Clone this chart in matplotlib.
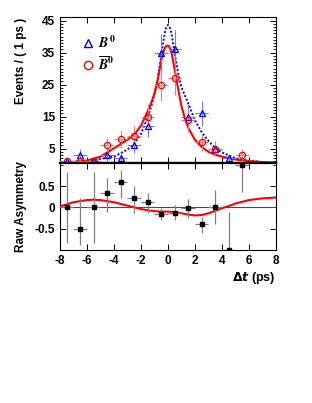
#Raw time distributions for B0 / B0bar tags and the raw asymmetry
import numpy as np
import matplotlib
matplotlib.use('Agg')
import matplotlib.pyplot as plt
from matplotlib.lines import Line2D
from matplotlib.ticker import MultipleLocator

plt.rcParams['font.family'] = ['Liberation Sans', 'DejaVu Sans']
plt.rcParams['font.weight'] = 'bold'
plt.rcParams['axes.labelweight'] = 'bold'

# bin centres (1 ps bins)
bins = [-7.5, -6.5, -5.5, -4.5, -3.5, -2.5, -1.5, -0.5,
        0.5, 1.5, 2.5, 3.5, 4.5, 5.5]
n_b0 = [1, 3, 1, 3, 2, 6, 12, 35, 36, 15, 16, 5, 2, 0]
n_b0bar = [1, 1, 1, 6, 8, 9, 15, 25, 27, 14, 7, 5, 0, 3]

# fit curves
curve_t = [-8, -7, -6, -5, -4, -3, -2.5, -2, -1.5, -1.25, -1, -0.75, -0.5, -0.3, -0.2,
           -0.1, 0.0, 0.1, 0.2, 0.3, 0.5, 0.75, 1, 1.25, 1.5, 2, 2.5, 3, 3.5, 4, 5, 6, 7, 8]
curve_b0 = [0.7, 0.9, 1.2, 1.8, 2.5, 4.7, 6.6, 9.6, 14.9, 18.1, 22.1, 27.1, 34.1, 39.6, 42.0,
            43.3, 43.6, 43.2, 42.0, 40.0, 34.6, 28.6, 24.1, 21.6, 19.1, 13.8, 10.1, 7.4, 5.2, 3.8, 2.0, 1.2, 0.8, 0.6]
curve_b0bar = [0.6, 0.8, 1.3, 2.5, 5.1, 7.8, 9.3, 12.2, 16.7, 19.2, 22.2, 26.7, 32.5, 35.7, 36.7,
               37.1, 37.2, 36.8, 35.8, 34.2, 29.5, 23.7, 18.2, 14.5, 11.5, 7.7, 5.5, 4.0, 3.1, 2.5, 1.6, 1.1, 0.8, 0.6]

# raw asymmetry points with asymmetric errors
asym = [0.0, -0.5, 0.0, 0.34, 0.6, 0.21, 0.12, -0.16,
        -0.14, -0.02, -0.38, 0.0, -1.0, 1.0]
asym_lo = [0.83, 0.38, 0.83, 0.44, 0.37, 0.34, 0.25, 0.14,
           0.16, 0.24, 0.23, 0.40, 0.0, 0.65]
asym_hi = [0.84, 0.73, 0.84, 0.34, 0.27, 0.29, 0.21, 0.14,
           0.19, 0.21, 0.16, 0.40, 0.89, 0.0]

asym_t = [-8, -7, -6, -5.5, -5, -4, -3, -2.5, -2, -1.5, -1, -0.5, 0, 0.5, 1,
          1.5, 2, 2.5, 3, 3.5, 4, 4.5, 5, 5.5, 6, 6.5, 7, 7.5, 8]
asym_curve = [0.02, 0.12, 0.17, 0.18, 0.17, 0.12, 0.04, 0.0, -0.04, -0.07, -0.09, -0.10,
              -0.10, -0.11, -0.14, -0.17, -0.19, -0.18, -0.14, -0.08, -0.02, 0.03, 0.09,
              0.13, 0.17, 0.19, 0.21, 0.22, 0.23]

fig = plt.figure(figsize=(3.12, 4.03), dpi=100)
ax1 = fig.add_axes([0.1923, 0.5955, 0.6923, 0.3615])
ax2 = fig.add_axes([0.1923, 0.3797, 0.6923, 0.2159], sharex=ax1)

x = np.array(bins)
nb = np.array(n_b0, dtype=float)
nr = np.array(n_b0bar, dtype=float)
mb = nb > 0
mr = nr > 0

ax1.plot(curve_t, curve_b0, color='blue', ls=(0, (1, 1)), lw=1.4, zorder=3)
ax1.plot(curve_t, curve_b0bar, '-', color='red', lw=1.5, zorder=3)
ax1.errorbar(x[mb], nb[mb], yerr=np.sqrt(nb[mb]), xerr=0.5, fmt='^', ms=4.5,
             mfc='none', mec='blue', mew=0.9, ecolor=(0.45, 0.45, 1.0), elinewidth=0.8,
             capsize=0, zorder=4)
ax1.errorbar(x[mr], nr[mr], yerr=np.sqrt(nr[mr]), xerr=0.5, fmt='o', ms=4.5,
             mfc='none', mec='red', mew=0.9, ecolor=(1.0, 0.45, 0.45), elinewidth=0.8,
             capsize=0, zorder=4)

ax1.set_xlim(-8, 8)
ax1.set_ylim(0.5, 46.0)
ax1.set_yticks([5, 15, 25, 35, 45])
ax1.yaxis.set_minor_locator(MultipleLocator(1))
ax1.xaxis.set_major_locator(MultipleLocator(2))
ax1.set_ylabel('Events / ( 1 ps )', fontsize=8.5, y=1.0, ha='right')
ax1.yaxis.set_label_coords(-0.155, 1.0)
plt.setp(ax1.get_xticklabels(), visible=False)
ax1.spines['bottom'].set_linewidth(1.6)

handles = [Line2D([], [], ls='none', marker='^', ms=6, mfc='none', mec='blue', mew=1.0),
           Line2D([], [], ls='none', marker='o', ms=6, mfc='none', mec='red', mew=1.0)]
leg = ax1.legend(handles, [r'$B^0$', r'$\overline{B}^0$'], loc='upper left',
                 bbox_to_anchor=(0.04, 0.97), frameon=False,
                 prop={'size': 10, 'weight': 'normal'},
                 handlelength=1.0, handletextpad=0.2, labelspacing=0.3)
for t in leg.get_texts():
    t.set_math_fontfamily('stix')

ax2.plot(asym_t, asym_curve, '-', color='red', lw=1.5, zorder=3)
ax2.axhline(0, color='0.3', lw=0.8, zorder=2)
ax2.errorbar(x, asym, yerr=[asym_lo, asym_hi], xerr=0.5, fmt='s', ms=3,
             color='black', ecolor='0.5', elinewidth=0.9, capsize=0, zorder=4)
ax2.set_ylim(-1.0, 1.04)
ax2.set_yticks([-0.5, 0, 0.5])
ax2.set_yticklabels(['-0.5', '0', '0.5'])
ax2.yaxis.set_minor_locator(MultipleLocator(0.5))
ax2.set_xticks([-8, -6, -4, -2, 0, 2, 4, 6, 8])
ax2.set_xticklabels(['-8', '-6', '-4', '-2', '0', '2', '4', '6', '8'])
ax2.set_ylabel('Raw Asymmetry', fontsize=8.5)
ax2.yaxis.set_label_coords(-0.155, 0.5)
ax2.spines['top'].set_linewidth(1.6)
xl = ax2.set_xlabel(r'$\Delta\mathbfit{t}$ (ps)', fontsize=9, ha='right', x=1.0)
xl.set_math_fontfamily('dejavusans')
ax2.xaxis.labelpad = 2

for ax in (ax1, ax2):
    ax.tick_params(which='both', direction='in', top=True, right=True, labelsize=8.5)
    ax.tick_params(which='major', length=4, width=0.7)
    ax.tick_params(which='minor', length=2, width=0.6)
    for s in ('left', 'right'):
        ax.spines[s].set_linewidth(0.8)

fig.savefig('out.png', dpi=100)
